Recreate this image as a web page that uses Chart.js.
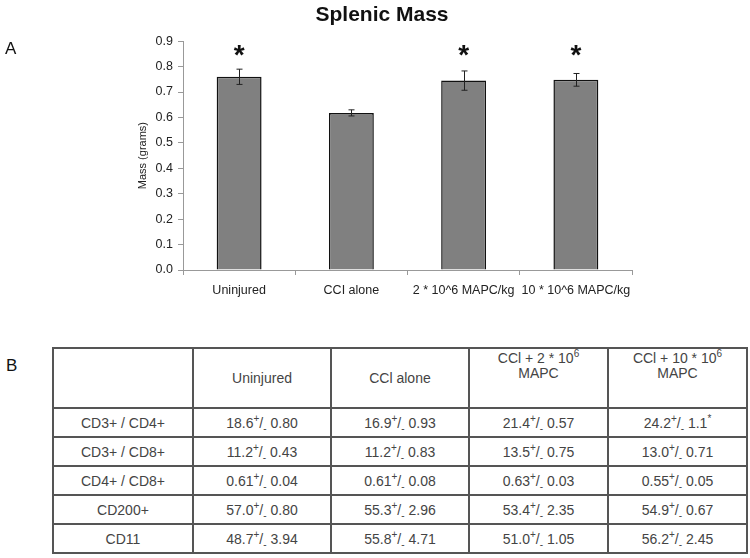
<!DOCTYPE html>
<html>
<head>
<meta charset="utf-8">
<script src="https://cdn.jsdelivr.net/npm/chart.js@4"></script>
<style>
  body { margin: 0; background: #fff; font-family: Arial, "Liberation Sans", sans-serif; }
  #wrap { position: relative; width: 750px; height: 558px; overflow: hidden; }
  #chartBox { position: absolute; left: 0; top: 0; width: 750px; height: 310px; }
  .panel { position: absolute; font-size: 17px; line-height: 1; color: #111; }
  #tabla { position: absolute; left: 52px; top: 347px; border-collapse: collapse; table-layout: fixed; width: 694px; }
  #tabla td { border: 2px solid #555; text-align: center; font-size: 14px; color: #444; padding: 0; height: 27px; }
  #tabla tr.head td { height: 56px; }
  #tabla td.dos { vertical-align: top; line-height: 15px; padding-top: 2px; }
  #tabla sup, #tabla sub { font-size: 10px; line-height: 0; }
</style>
</head>
<body>
<div id="wrap">
  <div id="chartBox"><canvas id="graficaBazo"></canvas></div>
  <div class="panel" style="left:5px; top:40px;">A</div>
  <div class="panel" style="left:6px; top:357px;">B</div>
  <table id="tabla"></table>
</div>
<script>
// ===============================
// DATOS DE LA GRAFICA
// ===============================
const grupos = ["Uninjured", "CCI alone", "2 * 10^6 MAPC/kg", "10 * 10^6 MAPC/kg"];
const masa = [0.760, 0.618, 0.745, 0.748];
const errorMasa = [0.030, 0.012, 0.038, 0.025];
const significativo = [true, false, true, true];
const ticksY = [0, 0.1, 0.2, 0.3, 0.4, 0.5, 0.6, 0.7, 0.8, 0.9];

// ===============================
// DATOS DE LA TABLA
// ===============================
const filasTabla = ["CD3+ / CD4+", "CD3+ / CD8+", "CD4+ / CD8+", "CD200+", "CD11"];
const uninjured = ["18.6", "11.2", "0.61", "57.0", "48.7"];
const uninjuredSem = ["0.80", "0.43", "0.04", "0.80", "3.94"];
const cciSolo = ["16.9", "11.2", "0.61", "55.3", "55.8"];
const cciSoloSem = ["0.93", "0.83", "0.08", "2.96", "4.71"];
const mapc2 = ["21.4", "13.5", "0.63", "53.4", "51.0"];
const mapc2Sem = ["0.57", "0.75", "0.03", "2.35", "1.05"];
const mapc10 = ["24.2", "13.0", "0.55", "54.9", "56.2"];
const mapc10Sem = ["1.1<sup>*</sup>", "0.71", "0.05", "0.67", "2.45"];

// ===============================
// TABLA
// ===============================
function renderTabla() {
    const celda = (m, s) => `<td>${m}<sup>+</sup>/<sub>-</sub> ${s}</td>`;
    let html = "<colgroup><col style='width:140px'><col style='width:138px'><col style='width:138px'><col style='width:139px'><col style='width:139px'></colgroup>";
    html += "<tr class='head'><td></td><td>Uninjured</td><td>CCl alone</td>";
    html += "<td class='dos'>CCl + 2 * 10<sup>6</sup><br>MAPC</td>";
    html += "<td class='dos'>CCl + 10 * 10<sup>6</sup><br>MAPC</td></tr>";
    filasTabla.forEach((f, i) => {
        html += "<tr>";
        html += `<td>${f}</td>`;
        html += celda(uninjured[i], uninjuredSem[i]);
        html += celda(cciSolo[i], cciSoloSem[i]);
        html += celda(mapc2[i], mapc2Sem[i]);
        html += celda(mapc10[i], mapc10Sem[i]);
        html += "</tr>";
    });
    document.getElementById("tabla").innerHTML = html;
}
renderTabla();

// ===============================
// BARRAS DE ERROR Y ASTERISCOS
// ===============================
const pluginError = {
    id: "barrasError",
    afterDatasetsDraw(chart) {
        const ctx = chart.ctx;
        const y = chart.scales.y;
        const meta = chart.getDatasetMeta(0);
        ctx.save();
        ctx.strokeStyle = "#222";
        ctx.lineWidth = 1;
        meta.data.forEach((barra, i) => {
            const x = Math.round(barra.x) + 0.5;
            const arriba = y.getPixelForValue(masa[i] + errorMasa[i]);
            const abajo = y.getPixelForValue(masa[i] - errorMasa[i]);
            ctx.beginPath();
            ctx.moveTo(x, arriba); ctx.lineTo(x, abajo);
            ctx.moveTo(x - 3, arriba); ctx.lineTo(x + 3, arriba);
            ctx.moveTo(x - 3, abajo); ctx.lineTo(x + 3, abajo);
            ctx.stroke();
        });
        ctx.fillStyle = "#111";
        ctx.font = "bold 28px Arial, 'Liberation Sans', sans-serif";
        ctx.textAlign = "center";
        ctx.textBaseline = "alphabetic";
        meta.data.forEach((barra, i) => {
            if (significativo[i]) ctx.fillText("*", barra.x, y.getPixelForValue(0.81));
        });
        ctx.restore();
    }
};

// ===============================
// GRAFICA
// ===============================
const fuente = "Arial, 'Liberation Sans', sans-serif";

new Chart(document.getElementById("graficaBazo"), {
    type: "bar",
    data: {
        labels: grupos,
        datasets: [{
            label: "Mass",
            data: masa,
            backgroundColor: "#808080",
            borderColor: "#111",
            borderWidth: 1.5,
            barPercentage: 0.4,
            categoryPercentage: 1.0
        }]
    },
    options: {
        responsive: true,
        maintainAspectRatio: false,
        animation: false,
        layout: { padding: { left: 132, right: 118, top: 0, bottom: 0 } },
        plugins: {
            legend: { display: false },
            tooltip: { enabled: false },
            title: {
                display: true,
                text: "Splenic Mass",
                color: "#111",
                font: { family: fuente, size: 21, weight: "bold" },
                padding: { top: 3, bottom: 13 }
            }
        },
        scales: {
            x: {
                afterFit: s => { s.height = 40; },
                grid: { drawOnChartArea: false, drawTicks: true, tickLength: 5, color: "#999", offset: true },
                border: { display: true, color: "#999", width: 1 },
                ticks: {
                    color: "#222",
                    font: { family: fuente, size: 12.5 },
                    padding: 8,
                    maxRotation: 0,
                    minRotation: 0,
                    autoSkip: false
                }
            },
            y: {
                min: 0,
                max: 0.9,
                afterFit: s => { s.width = 51; },
                afterBuildTicks: s => { s.ticks = ticksY.map(v => ({ value: v })); },
                grid: { drawOnChartArea: false, drawTicks: true, tickLength: 5, color: "#999" },
                border: { display: true, color: "#999", width: 1 },
                ticks: {
                    color: "#222",
                    font: { family: fuente, size: 12.5 },
                    padding: 5,
                    callback: v => Number(v).toFixed(1)
                },
                title: {
                    display: true,
                    text: "Mass (grams)",
                    color: "#222",
                    font: { family: fuente, size: 11 },
                    padding: { top: 4, bottom: 4 }
                }
            }
        }
    },
    plugins: [pluginError]
});
</script>
</body>
</html>
